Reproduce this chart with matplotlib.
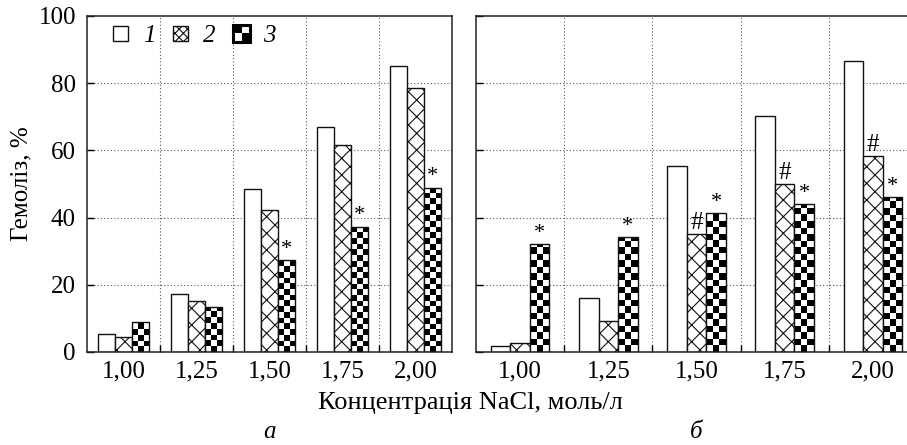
import numpy as np
import matplotlib
matplotlib.use("Agg")
import matplotlib.pyplot as plt
from matplotlib.patches import Rectangle, Patch
from matplotlib.legend_handler import HandlerPatch

# ---------------- data ----------------
categories = ["1,00", "1,25", "1,50", "1,75", "2,00"]
series_labels = ["1", "2", "3"]

a_s1 = [5.3, 17.3, 48.4, 67.0, 85.0]
a_s2 = [4.6, 15.3, 42.4, 61.5, 78.5]
a_s3 = [8.8, 13.4, 27.4, 37.3, 48.9]

b_s1 = [1.7, 16.0, 55.4, 70.2, 86.7]
b_s2 = [2.7, 9.3, 35.1, 50.1, 58.4]
b_s3 = [32.0, 34.1, 41.4, 43.9, 46.0]

# significance marks: (series index, category index, symbol)
a_marks = [(2, 2, "*"), (2, 3, "*"), (2, 4, "*")]
b_marks = [(2, 0, "*"), (2, 1, "*"), (2, 2, "*"), (2, 3, "*"), (2, 4, "*"),
           (1, 2, "#"), (1, 3, "#"), (1, 4, "#")]

yticks = [0, 20, 40, 60, 80, 100]
xlabel = "Концентрація NaCl, моль/л"
ylabel = "Гемоліз, %"
panel_labels = ["а", "б"]

# ---------------- style ----------------
W, H = 907, 445
plt.rcParams["font.family"] = ["Liberation Serif", "DejaVu Serif"]
plt.rcParams["hatch.linewidth"] = 0.8
FS = 18

fig = plt.figure(figsize=(W / 100, H / 100), dpi=100)
axA = fig.add_axes([87 / W, 1 - 352 / H, 365 / W, 336 / H])
axB = fig.add_axes([476 / W, 1 - 352 / H, 441 / W, 336 / H])

EDGE = "#111111"


def checker_fill(ax, rect, cols=3):
    """Fill a bar rectangle with a black/white checker pattern."""
    x0, y0 = rect.get_x(), rect.get_y()
    w, h = rect.get_width(), rect.get_height()
    if h <= 0:
        return
    p0 = ax.transData.transform((x0, 0))
    p1 = ax.transData.transform((x0 + w, 1))
    cell_px = (p1[0] - p0[0]) / cols
    px_per_unit = p1[1] - p0[1]
    cell_h = cell_px / px_per_unit
    rows = int(np.ceil(h / cell_h))
    arr = ((np.indices((rows, cols)).sum(axis=0) + 1) % 2).astype(float)
    im = ax.imshow(arr, cmap="gray", vmin=0, vmax=1, interpolation="nearest",
                   extent=(x0, x0 + w, y0, y0 + rows * cell_h), origin="lower",
                   aspect="auto", zorder=2.5)
    im.set_clip_path(rect)


def draw_panel(ax, s1, s2, s3, marks, width):
    ax.set_xlim(-0.5, len(categories) - 0.5)
    ax.set_ylim(0, 100)
    x = np.arange(len(categories))
    ax.bar(x - width, s1, width, facecolor="white", edgecolor=EDGE,
           linewidth=1.0, zorder=2)
    ax.bar(x, s2, width, facecolor="white", edgecolor=EDGE,
           linewidth=1.0, hatch="xx", zorder=2)
    b3 = ax.bar(x + width, s3, width, facecolor="none", edgecolor=EDGE,
                linewidth=1.0, zorder=3)
    for r in b3:
        checker_fill(ax, r)
    ax.set_xlim(-0.5, len(categories) - 0.5)
    ax.set_ylim(0, 100)
    vals = [s1, s2, s3]
    for si, ci, sym in marks:
        xv = x[ci] + (si - 1) * width
        yv = vals[si][ci]
        if sym == "*":
            ax.annotate(sym, (xv, yv), xytext=(0, 1), textcoords="offset points",
                        ha="center", va="bottom", fontsize=16, zorder=5)
        else:
            ax.annotate(sym, (xv, yv), xytext=(0, 0), textcoords="offset points",
                        ha="center", va="bottom", fontsize=18, zorder=5)
    for yv in yticks[1:-1]:
        ax.axhline(yv, color="#555555", linestyle=(0, (1, 2)), linewidth=0.8, zorder=1)
    for xv in np.arange(len(categories) - 1) + 0.5:
        ax.axvline(xv, color="#555555", linestyle=(0, (1, 2)), linewidth=0.8, zorder=1)
    ax.set_xticks(x)
    ax.set_xticklabels(categories, fontsize=FS)
    ax.set_xticks(np.arange(len(categories) - 1) + 0.5, minor=True)
    ax.tick_params(axis="x", which="major", length=0, pad=6)
    ax.tick_params(axis="x", which="minor", direction="in", length=5, width=1.0)
    ax.set_yticks(yticks)
    ax.tick_params(axis="y", which="major", direction="in", length=5, width=1.0,
                   labelsize=FS, pad=8)
    for sp in ax.spines.values():
        sp.set_linewidth(1.1)
        sp.set_color("#222222")


fig.canvas.draw()
axA.set_xlim(-0.5, 4.5); axA.set_ylim(0, 100)
axB.set_xlim(-0.5, 4.5); axB.set_ylim(0, 100)

draw_panel(axA, a_s1, a_s2, a_s3, a_marks, 0.233)
draw_panel(axB, b_s1, b_s2, b_s3, b_marks, 0.222)
axB.set_yticklabels([])
axA.set_ylabel(ylabel, fontsize=FS, labelpad=4)


# ---------------- legend ----------------
class CheckerHandler(HandlerPatch):
    def create_artists(self, legend, orig_handle, xdescent, ydescent, width,
                       height, fontsize, trans):
        s = min(width, height) * 1.15
        x0, y0 = -xdescent, -ydescent - (s - height) / 2
        arts = [Rectangle((x0, y0), s, s, facecolor="white", edgecolor="none",
                          transform=trans)]
        hs = s / 2
        arts.append(Rectangle((x0, y0 + hs), hs, hs, facecolor="black",
                              edgecolor="none", transform=trans))
        arts.append(Rectangle((x0 + hs, y0), hs, hs, facecolor="black",
                              edgecolor="none", transform=trans))
        arts.append(Rectangle((x0, y0), s, s, facecolor="none", edgecolor="black",
                              linewidth=2.2, transform=trans))
        return arts


class SquareHandler(HandlerPatch):
    def create_artists(self, legend, orig_handle, xdescent, ydescent, width,
                       height, fontsize, trans):
        s = min(width, height)
        r = Rectangle((-xdescent, -ydescent), s, s, facecolor="white",
                      edgecolor=EDGE, linewidth=1.0, hatch=orig_handle.get_hatch(),
                      transform=trans)
        return [r]


h1 = Patch(facecolor="white", edgecolor=EDGE)
h2 = Patch(facecolor="white", edgecolor=EDGE, hatch="xxxx")
h3 = Patch(facecolor="white", edgecolor=EDGE)
leg = axA.legend([h1, h2, h3], series_labels, ncol=3, loc="center left",
                 bbox_to_anchor=(0.071, 1 - 20 / 336), frameon=False,
                 handlelength=0.6, handleheight=0.6, handletextpad=0.6,
                 columnspacing=0.7, borderaxespad=0.0, borderpad=0.0,
                 prop={"family": "Liberation Serif", "style": "italic", "size": FS},
                 handler_map={h1: SquareHandler(), h2: SquareHandler(),
                              h3: CheckerHandler()})

# ---------------- figure texts ----------------
fig.text(470 / W, 1 - 403 / H, xlabel, ha="center", va="center", fontsize=19)
fig.text(270 / W, 1 - 432 / H, panel_labels[0], ha="center", va="center",
         fontsize=FS, style="italic")
fig.text(696 / W, 1 - 432 / H, panel_labels[1], ha="center", va="center",
         fontsize=FS, style="italic")

fig.savefig("out.png", dpi=100)
